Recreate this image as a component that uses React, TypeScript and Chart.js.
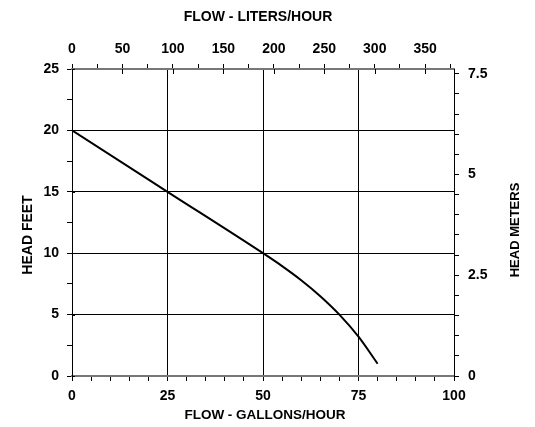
import React, { useEffect, useRef } from "react";
import { Chart, registerables } from "chart.js";

Chart.register(...registerables);

// Pump curve data (flow in US gallons/hour, head in feet)
const flowGph = [0, 25, 50, 55, 60, 65, 70, 75, 80];
const headFeet = [20, 15, 10, 8.95, 7.8, 6.5, 5.0, 3.2, 1.0];

// Axis ticks
const gphTicks = [0, 5, 10, 15, 20, 25, 30, 35, 40, 45, 50, 55, 60, 65, 70, 75, 80, 85, 90, 95, 100];
const gphLabels = [0, 25, 50, 75, 100];
const lphTicks = [0, 25, 50, 75, 100, 125, 150, 175, 200, 225, 250, 275, 300, 325, 350, 375];
const lphLabels = [0, 50, 100, 150, 200, 250, 300, 350];
const feetTicks = [0, 2.5, 5, 7.5, 10, 12.5, 15, 17.5, 20, 22.5, 25];
const feetLabels = [0, 5, 10, 15, 20, 25];
const meterTicks = [0, 0.5, 1, 1.5, 2, 2.5, 3, 3.5, 4, 4.5, 5, 5.5, 6, 6.5, 7, 7.5];
const meterLabels = [0, 2.5, 5, 7.5];

const LPH_MAX = 378.54; // 100 gal/h in L/h
const M_MAX = 7.62; // 25 ft in m

const titlePlugin = {
  id: "axisTitles",
  afterDraw(chart: any) {
    const { ctx, chartArea } = chart;
    ctx.save();
    ctx.fillStyle = "#000";
    ctx.textAlign = "center";
    ctx.textBaseline = "middle";
    // inward major tick marks
    ctx.strokeStyle = "#000";
    ctx.lineWidth = 1;
    const y = chart.scales.y;
    feetLabels.forEach((v) => {
      const py = Math.round(y.getPixelForValue(v)) + 0.5;
      ctx.beginPath();
      ctx.moveTo(chartArea.left, py);
      ctx.lineTo(chartArea.left + 3, py);
      ctx.stroke();
    });
    const x2 = chart.scales.x2;
    lphLabels.forEach((v) => {
      const px = Math.round(x2.getPixelForValue(v)) + 0.5;
      ctx.beginPath();
      ctx.moveTo(px, chartArea.top);
      ctx.lineTo(px, chartArea.top + 5);
      ctx.stroke();
    });
    // titles
    ctx.font = "bold 14px 'Liberation Sans', Arial, sans-serif";
    ctx.fillText("FLOW - LITERS/HOUR", 258, 17);
    ctx.font = "bold 13.5px 'Liberation Sans', Arial, sans-serif";
    ctx.fillText("FLOW - GALLONS/HOUR", 265, 415);
    ctx.save();
    ctx.translate(28, 235);
    ctx.rotate(-Math.PI / 2);
    ctx.font = "bold 14px 'Liberation Sans', Arial, sans-serif";
    ctx.fillText("HEAD FEET", 0, 0);
    ctx.restore();
    ctx.save();
    ctx.translate(515, 230);
    ctx.rotate(-Math.PI / 2);
    ctx.font = "bold 13px 'Liberation Sans', Arial, sans-serif";
    ctx.fillText("HEAD METERS", 0, 0);
    ctx.restore();
    ctx.restore();
  },
};

const tickFont = { family: "'Liberation Sans', Arial, sans-serif", size: 14, weight: "bold" as const };

function setTicks(values: number[]) {
  return (scale: any) => {
    scale.ticks = values.map((v) => ({ value: v }));
  };
}

function labelFor(labels: number[]) {
  return (value: any) => (labels.includes(Number(value)) ? String(value) : "");
}

export default function App() {
  const ref = useRef<HTMLCanvasElement | null>(null);
  useEffect(() => {
    if (!ref.current) return;
    const chart = new Chart(ref.current, {
      type: "line",
      data: {
        datasets: [
          {
            data: flowGph.map((g, i) => ({ x: g, y: headFeet[i] })),
            borderColor: "#000",
            borderWidth: 2,
            pointRadius: 0,
            cubicInterpolationMode: "monotone",
            xAxisID: "x",
            yAxisID: "y",
          },
        ],
      },
      options: {
        responsive: false,
        animation: false,
        layout: { padding: 0 },
        plugins: { legend: { display: false }, tooltip: { enabled: false } },
        scales: {
          x: {
            type: "linear",
            position: "bottom",
            min: 0,
            max: 100,
            afterBuildTicks: setTicks(gphTicks),
            afterFit: (s: any) => {
              s.height = 51;
            },
            ticks: { callback: labelFor(gphLabels), color: "#000", font: tickFont, padding: 7, maxRotation: 0, autoSkip: false },
            grid: {
              color: (c: any) => (c.tick && [25, 50, 75].includes(c.tick.value) ? "#000" : "rgba(0,0,0,0)"),
              tickColor: "#000",
              tickLength: 5,
              lineWidth: 1,
            },
            border: { color: "#777", width: 2 },
          },
          x2: {
            type: "linear",
            position: "top",
            min: 0,
            max: LPH_MAX,
            afterBuildTicks: setTicks(lphTicks),
            afterFit: (s: any) => {
              s.height = 69;
            },
            ticks: { callback: labelFor(lphLabels), color: "#000", font: tickFont, padding: 6, maxRotation: 0, autoSkip: false },
            grid: { drawOnChartArea: false, tickColor: "#000", tickLength: 5 },
            border: { color: "#777", width: 2 },
          },
          y: {
            type: "linear",
            position: "left",
            min: 0,
            max: 25,
            afterBuildTicks: setTicks(feetTicks),
            afterFit: (s: any) => {
              s.width = 72;
            },
            ticks: { callback: labelFor(feetLabels), color: "#000", font: tickFont, padding: 8, autoSkip: false },
            grid: {
              color: (c: any) => (c.tick && [5, 10, 15, 20].includes(c.tick.value) ? "#000" : "rgba(0,0,0,0)"),
              tickColor: "#000",
              tickLength: 5,
              lineWidth: 1,
            },
            border: { color: "#000", width: 1 },
          },
          y2: {
            type: "linear",
            position: "right",
            min: 0,
            max: M_MAX,
            afterBuildTicks: setTicks(meterTicks),
            afterFit: (s: any) => {
              s.width = 81;
            },
            ticks: { callback: labelFor(meterLabels), color: "#000", font: tickFont, padding: 9, autoSkip: false },
            grid: { drawOnChartArea: false, tickColor: "#000", tickLength: 5 },
            border: { color: "#000", width: 1 },
          },
        },
      },
      plugins: [titlePlugin],
    } as any);
    return () => chart.destroy();
  }, []);
  return (
    <div style={{ position: "absolute", left: 0, top: 0, width: 535, height: 427, background: "#fff" }}>
      <canvas ref={ref} width={535} height={427} style={{ display: "block" }} />
    </div>
  );
}
